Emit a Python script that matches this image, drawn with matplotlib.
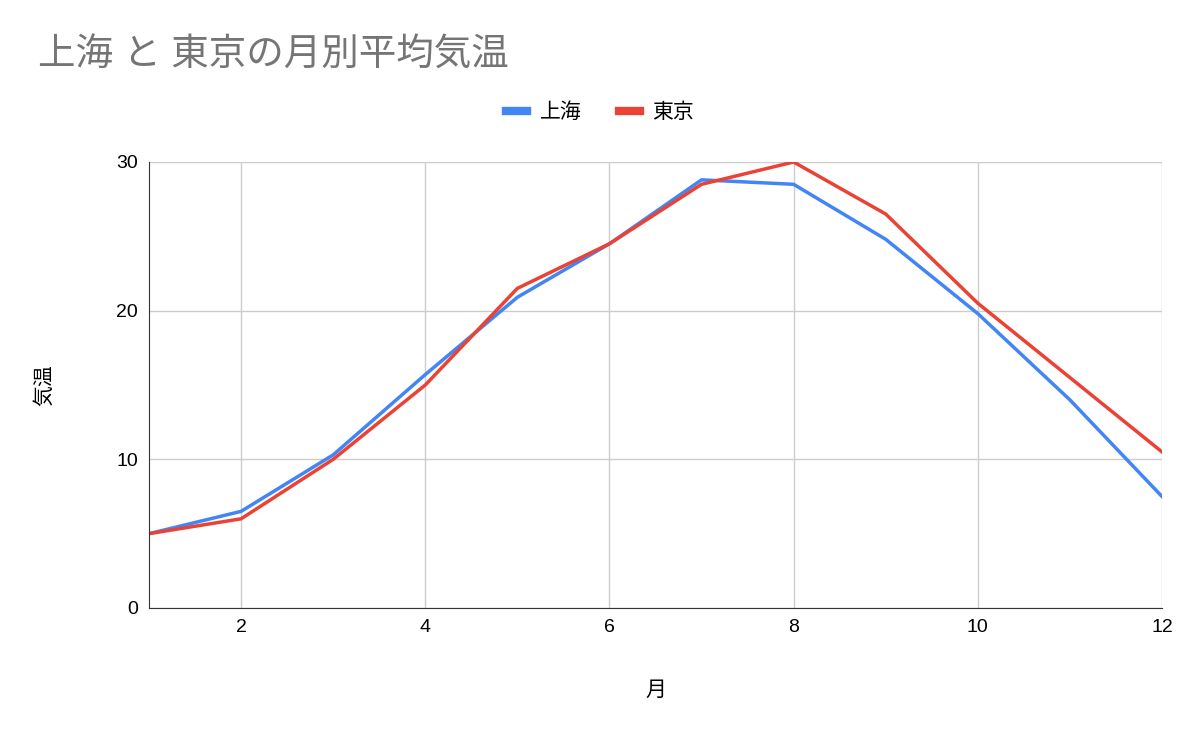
import matplotlib
matplotlib.use("Agg")
import matplotlib.pyplot as plt

plt.rcParams['font.family'] = ['Liberation Sans', 'Noto Sans CJK JP', 'DejaVu Sans']

months = list(range(1, 13))
shanghai = [5.0, 6.5, 10.3, 15.7, 20.9, 24.5, 28.8, 28.5, 24.8, 19.8, 14.0, 7.5]
tokyo = [5.0, 6.0, 10.0, 15.0, 21.5, 24.5, 28.5, 30.0, 26.5, 20.5, 15.5, 10.5]

fig = plt.figure(figsize=(12, 7.42), dpi=100)
ax = fig.add_axes([149/1200, 1-608/742, (1162-149)/1200, (608-162)/742])
ax.plot(months, shanghai, color='#4285f4', lw=2.5, label='上海')
ax.plot(months, tokyo, color='#ea4335', lw=2.5, label='東京')
ax.set_xlim(1, 12)
ax.set_ylim(0, 30)
ax.set_xticks([2, 4, 6, 8, 10, 12])
ax.set_yticks([0, 10, 20, 30])
ax.grid(True, color='#cccccc', lw=1)
for s in ['top', 'right']:
    ax.spines[s].set_visible(False)
ax.spines['left'].set_color('#333333')
ax.spines['bottom'].set_color('#333333')
ax.tick_params(length=0, labelsize=14, pad=8)
ax.set_xlabel('月', fontsize=15, labelpad=32)
ax.set_ylabel('気温', fontsize=15, labelpad=45)
fig.text(38/1200, 1-55/742, '上海 と 東京の月別平均気温', fontsize=27, color='#757575', va='center')
leg = fig.legend(loc='center', bbox_to_anchor=(600/1200, 1-112/742), ncol=2, frameon=False,
           fontsize=15, handlelength=1.0, handletextpad=0.6, columnspacing=1.8)
for h in leg.get_lines():
    h.set_linewidth(6)
fig.savefig('out.png', dpi=100)
